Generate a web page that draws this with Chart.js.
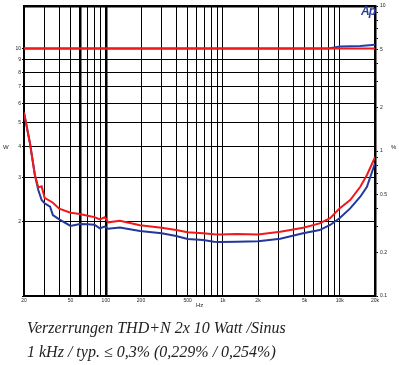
<!DOCTYPE html><html lang="de">
<head>
    <meta charset="UTF-8">
    <title>Verzerrungen THD+N</title>
    <script src="https://cdn.jsdelivr.net/npm/chart.js"></script>
    <style>
        body {
            margin: 0;
            background: #fff;
        }
        #wrap {
            position: relative;
            width: 399px;
            height: 365px;
            overflow: hidden;
        }
        #thdChart {
            position: absolute;
            left: 0;
            top: 0;
        }
        .lbl {
            position: absolute;
            font-family: "Liberation Sans", Arial, sans-serif;
            font-size: 6px;
            color: #222;
        }
        #ap {
            position: absolute;
            left: 361px;
            top: 4px;
            font-family: "Liberation Sans", Arial, sans-serif;
            font-weight: bold;
            font-style: italic;
            font-size: 12px;
            letter-spacing: -1px;
            color: #2b3f9a;
        }
        .caption {
            position: absolute;
            left: 27px;
            font-family: "Liberation Serif", "DejaVu Serif", serif;
            font-style: italic;
            font-size: 16px;
            color: #222;
            white-space: nowrap;
        }
    </style>
</head>
<body>
<div id="wrap">
    <canvas id="thdChart" width="399" height="310"></canvas>
    <div id="ap">Ap</div>
    <div class="lbl" style="left:3px;top:144px;">W</div>
    <div class="lbl" style="left:391px;top:144px;">%</div>
    <div class="lbl" style="left:196px;top:302px;">Hz</div>
    <div class="caption" style="top:319px;">Verzerrungen THD+N 2x 10 Watt /Sinus</div>
    <div class="caption" style="top:343px;">1 kHz / typ. &le; 0,3% (0,229% / 0,254%)</div>
</div>

<script>
    // frequency points (Hz)
    const freqs = [20, 22.5, 24.8, 26.5, 28.3, 30, 33.4, 35.3, 40, 50, 60, 70, 80, 89, 98, 105, 132, 196,
        300, 400, 500, 680, 840, 950, 1320, 2000, 3100, 4860, 6730, 8270, 9950, 12270, 14970, 17070, 20000];
    // THD+N in %
    const redThd = [1.84, 1.13, 0.68, 0.56, 0.57, 0.476, 0.452, 0.44, 0.40, 0.375, 0.368, 0.358, 0.35, 0.338, 0.349, 0.322, 0.33, 0.308,
        0.296, 0.285, 0.275, 0.271, 0.267, 0.266, 0.268, 0.266, 0.277, 0.296, 0.317, 0.344, 0.402, 0.459, 0.567, 0.683, 0.905];
    const blueThd = [1.84, 1.13, 0.68, 0.538, 0.459, 0.436, 0.413, 0.362, 0.338, 0.304, 0.314, 0.313, 0.31, 0.293, 0.301, 0.291, 0.297, 0.281,
        0.271, 0.259, 0.247, 0.243, 0.237, 0.236, 0.237, 0.239, 0.248, 0.271, 0.285, 0.309, 0.344, 0.402, 0.484, 0.567, 0.823];

    // level traces near the top
    const levelFreqs = [20, 1000, 8000, 10000, 15000, 20000];
    const redLevel = [5.1, 5.1, 5.1, 5.1, 5.1, 5.1];
    const blueLevel = [5.1, 5.1, 5.1, 5.25, 5.3, 5.4];

    // ticks
    const xGrid = [20, 30, 40, 50, 60, 70, 80, 90, 100, 200, 300, 400, 500, 600, 700, 800, 900, 1000,
        2000, 3000, 4000, 5000, 6000, 7000, 8000, 9000, 10000, 20000];
    const xLabels = {20: '20', 50: '50', 100: '100', 200: '200', 500: '500', 1000: '1k', 2000: '2k', 5000: '5k', 10000: '10k', 20000: '20k'};
    const thickX = [60, 100];
    const leftTicks = [1, 2, 3, 4, 5, 6, 7, 8, 9, 10];
    const leftLabels = {2: '2', 3: '3', 4: '4', 5: '5', 6: '6', 7: '7', 8: '8', 9: '9', 10: '10'};
    const rightTicks = [0.1, 0.2, 0.3, 0.4, 0.5, 0.6, 0.7, 0.8, 0.9, 1, 2, 3, 4, 5, 6, 7, 8, 9, 10];
    const rightLabels = {0.1: '0.1', 0.2: '0.2', 0.5: '0.5', 1: '1', 2: '2', 5: '5', 10: '10'};

    const pts = (xs, ys) => xs.map((x, i) => ({x: x, y: ys[i]}));
    const tickFont = {family: 'Liberation Sans, Arial, sans-serif', size: 5};

    function fixTicks(list) {
        return axis => { axis.ticks = list.map(v => ({value: v})); };
    }

    // first dataset ends up on top, so red comes first
    new Chart(document.getElementById('thdChart'), {
        type: 'line',
        data: {
            datasets: [
                {data: pts(freqs, redThd), borderColor: '#f01818', borderWidth: 2, pointRadius: 0, yAxisID: 'yR'},
                {data: pts(levelFreqs, redLevel), borderColor: '#f01818', borderWidth: 2, pointRadius: 0, yAxisID: 'yR'},
                {data: pts(freqs, blueThd), borderColor: '#22389c', borderWidth: 2, pointRadius: 0, yAxisID: 'yR'},
                {data: pts(levelFreqs, blueLevel), borderColor: '#2440a8', borderWidth: 2, pointRadius: 0, yAxisID: 'yR'}
            ]
        },
        options: {
            responsive: false,
            animation: false,
            layout: {padding: 0},
            plugins: {legend: {display: false}, tooltip: {enabled: false}},
            scales: {
                x: {
                    type: 'logarithmic', position: 'bottom', min: 20, max: 20000,
                    afterBuildTicks: fixTicks(xGrid),
                    afterFit: s => { s.height = 14; },
                    grid: {
                        color: '#000', tickLength: 0,
                        lineWidth: c => thickX.includes(c.tick && c.tick.value) ? 2.5 : 1
                    },
                    border: {color: '#000', width: 1.5},
                    ticks: {
                        autoSkip: false, maxRotation: 0, padding: 2, color: '#222', font: tickFont,
                        callback: v => xLabels[v] || ''
                    }
                },
                xTop: {
                    type: 'logarithmic', position: 'top', min: 20, max: 20000,
                    afterFit: s => { s.height = 6; },
                    grid: {drawOnChartArea: false, drawTicks: false},
                    border: {color: '#000', width: 2.5},
                    ticks: {display: false}
                },
                yL: {
                    type: 'logarithmic', position: 'left', min: 1, max: 14.8,
                    afterBuildTicks: fixTicks(leftTicks),
                    afterFit: s => { s.width = 24; },
                    grid: {color: '#000', lineWidth: 1, tickLength: 2},
                    border: {color: '#000', width: 1.5},
                    ticks: {
                        autoSkip: false, padding: 1, color: '#222', font: tickFont,
                        callback: v => leftLabels[v] || ''
                    }
                },
                yR: {
                    type: 'logarithmic', position: 'right', min: 0.1, max: 10,
                    afterBuildTicks: fixTicks(rightTicks),
                    afterFit: s => { s.width = 24; },
                    grid: {drawOnChartArea: false, color: '#000', tickLength: 3},
                    border: {color: '#000', width: 2.5},
                    ticks: {
                        autoSkip: false, padding: 2, color: '#222', font: tickFont,
                        callback: v => rightLabels[v] || ''
                    }
                }
            }
        }
    });
</script>
</body>
</html>
